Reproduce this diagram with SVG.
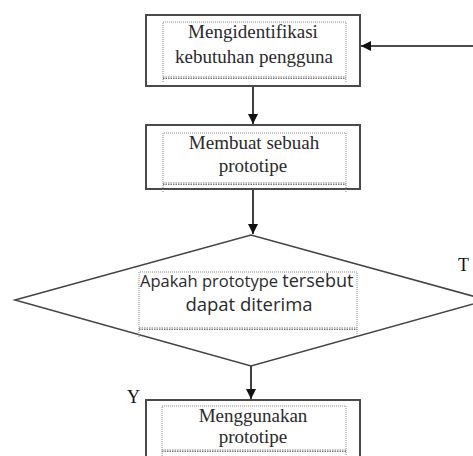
<svg xmlns="http://www.w3.org/2000/svg" width="473" height="456" viewBox="0 0 473 456">
<defs>
<style>
.box{fill:#fff;stroke:#4a4a4a;stroke-width:2}
.inner{fill:none;stroke:#888;stroke-width:1;stroke-dasharray:1 1}
.wavy{fill:none;stroke:#777;stroke-width:1.2;stroke-dasharray:1.5 1}
.dia{fill:#fff;stroke:#444;stroke-width:1.5}
.t{font-family:"Liberation Serif","Times New Roman",serif;font-size:19px;fill:#2a2a2a;text-anchor:middle}
.s{font-family:"Open Sans","Noto Sans",sans-serif;fill:#2a2a2a}
.lbl{font-family:"Liberation Serif","Times New Roman",serif;font-size:18px;fill:#111}
.con{fill:none;stroke:#111;stroke-width:1.6}
</style>
<marker id="ah2" viewBox="0 0 10 10" refX="10" refY="5" markerWidth="10" markerHeight="10" orient="auto" markerUnits="userSpaceOnUse">
<path d="M0,0 L10,5 L0,10 z" fill="#111"/>
</marker>
</defs>
<rect width="473" height="456" fill="#fff"/>

<g id="connectors">
<line class="con" x1="253" y1="87" x2="253" y2="124" marker-end="url(#ah2)"/>
<line class="con" x1="253" y1="190" x2="253" y2="234" marker-end="url(#ah2)"/>
<line class="con" x1="251" y1="366" x2="251" y2="399" marker-end="url(#ah2)"/>
<line class="con" x1="475" y1="46" x2="361" y2="46" marker-end="url(#ah2)"/>
</g>

<g id="node1">
<rect class="box" x="146" y="15" width="214" height="71"/>
<path class="inner" d="M163,82 V22 H346 V82"/>
<path class="wavy" d="M163,77 H346 M163,78.5 H346"/>
<text class="t" x="253" y="38">Mengidentifikasi</text>
<text class="t" x="254" y="63">kebutuhan pengguna</text>
</g>

<g id="node2">
<rect class="box" x="146" y="125" width="214" height="64"/>
<path class="inner" d="M163,192 V133 H346 V192"/>
<path class="wavy" d="M163,183 H346 M163,184.5 H346"/>
<text class="t" x="254" y="149">Membuat sebuah</text>
<text class="t" x="253" y="172">prototipe</text>
</g>

<g id="node3">
<polygon class="dia" points="15,300 251,235 487,300 251,366"/>
<path class="inner" d="M139,337 V272 H357 V337"/>
<path class="wavy" d="M139,328 H357 M139,329.5 H357"/>
<text class="s" x="140" y="287"><tspan font-size="16.5px">Apakah prototype </tspan><tspan font-size="18px">tersebut</tspan></text>
<text class="s" x="249" y="311" font-size="18.5px" text-anchor="middle">dapat diterima</text>
</g>

<g id="node4">
<rect class="box" x="146" y="400" width="214" height="70"/>
<path class="inner" d="M162,460 V406 H346 V460"/>
<path class="wavy" d="M162,450 H346 M162,451.5 H346"/>
<text class="t" x="253" y="422">Menggunakan</text>
<text class="t" x="253" y="443">prototipe</text>
</g>

<g id="labels">
<text class="lbl" x="127" y="403">Y</text>
<text class="lbl" x="458" y="271">T</text>
</g>
</svg>
